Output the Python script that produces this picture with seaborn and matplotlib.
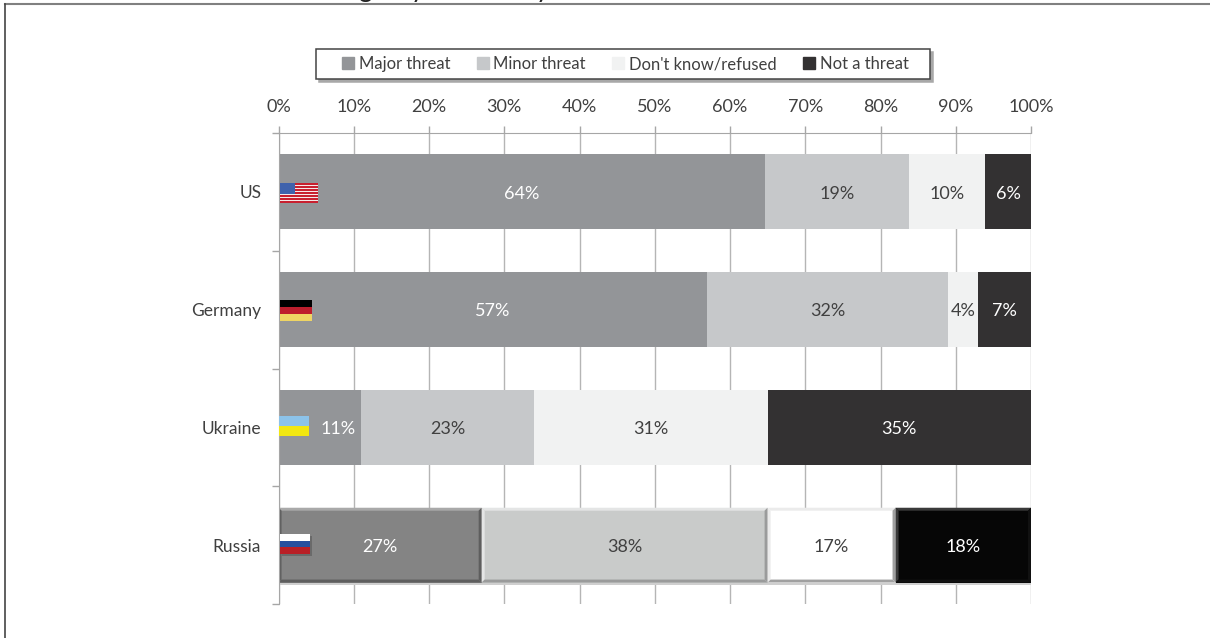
import matplotlib

matplotlib.use("Agg")

import matplotlib.pyplot as plt
from matplotlib.lines import Line2D
from matplotlib.patches import Rectangle
import numpy as np
import pandas as pd
import seaborn as sns

countries = ['US', 'Germany', 'Ukraine', 'Russia']
answers = ['Major threat', 'Minor threat', "Don't know/refused", 'Not a threat']
major = [64, 57, 11, 27]
minor = [19, 32, 23, 38]
unknown = [10, 4, 31, 17]
not_threat = [6, 7, 35, 18]
xticks = [0, 10, 20, 30, 40, 50, 60, 70, 80, 90, 100]

colors = ['#939598', '#c6c8ca', '#f1f2f2', '#333132']
russia_colors = ['#848484', '#c9cbca', '#ffffff', '#060606']
label_colors = ['white', '#404040', '#404040', 'white']

# stripes run top to bottom, then flag width in pixels
flags = {
    'Germany': (['#000000', '#be1e2d', '#efd564'], 32),
    'Ukraine': (['#8cc3ea', '#f2e711'], 30),
    'Russia': (['#ffffff', '#27509f', '#b91f26'], 30),
}

plt.rcParams['font.family'] = ['Lato', 'DejaVu Sans']

counts = pd.DataFrame(dict(zip(answers, [major, minor, unknown, not_threat])), index=countries)
shares = counts.div(counts.sum(axis=1), axis=0) * 100
running = shares.cumsum(axis=1)

fig = plt.figure(figsize=(12.1, 6.38), dpi=100)
ax = fig.add_axes([278.5 / 1210, 1 - 604 / 638, 752.5 / 1210, 471 / 638])

# stacked look: longest total first, each shorter one painted over it
for i in reversed(range(len(answers))):
    palette = colors[i:i + 1] * 3 + russia_colors[i:i + 1]
    sns.barplot(x=running[answers[i]].values, y=countries, hue=countries, palette=palette,
                legend=False, width=0.635, saturation=1, orient='h', ax=ax, zorder=3)

ax.set_xlim(0, 100)
ax.set_ylim(3.5, -0.5)
ax.xaxis.tick_top()
ax.set_xticks(xticks)
ax.set_xticklabels([f'{t}%' for t in xticks], fontsize=13, color='#404040')
ax.tick_params(axis='x', length=5, width=1, color='#a6a6a6', pad=8)
ax.tick_params(axis='y', length=0, labelsize=12.5, labelcolor='#404040', pad=12.5)
ax.set_yticks(np.arange(-0.5, 4), minor=True)
ax.tick_params(axis='y', which='minor', length=5, width=1, color='#a6a6a6')
ax.grid(axis='x', color='#b5b5b5', lw=1, zorder=0)
ax.set_axisbelow(True)
ax.set_xlabel('')
ax.set_ylabel('')
for side in ['right', 'bottom']:
    ax.spines[side].set_visible(False)
for side in ['top', 'left']:
    ax.spines[side].set_color('#a6a6a6')
ax.spines['left'].set_zorder(6)

# value labels
for r, country in enumerate(countries):
    for c, answer in enumerate(answers):
        center = running.loc[country, answer] - shares.loc[country, answer] / 2
        if country == 'Ukraine' and c == 0:
            center += 2.4
        ax.text(center, r + 0.015, f'{counts.loc[country, answer]}%', ha='center', va='center',
                fontsize=13, color=label_colors[c], zorder=5)

# bevel on the Russia row
half = 0.635 / 2
russia = countries.index('Russia')
lefts = np.r_[0, running.loc['Russia'].values[:-1]]
rights = running.loc['Russia'].values
bx, by = 0.4, 0.025
top, bot = russia - half, russia + half
ax.add_patch(Rectangle((0, bot), 100, 0.025, color='#cfcfcf', lw=0, zorder=2.5))
for c in range(len(answers)):
    l, r = lefts[c], rights[c]
    light = '#3a3a3a' if c == 3 else ('#ebebeb' if c == 2 else '#a9a9a9' if c == 0 else '#e4e5e5')
    dark = '#111111' if c == 3 else ('#a0a0a0' if c == 2 else '#5e5e5e' if c == 0 else '#9a9b9b')
    ax.add_patch(plt.Polygon([(l, top), (r, top), (r - bx, top + by), (l + bx, top + by)], color=light, lw=0, zorder=4))
    ax.add_patch(plt.Polygon([(l, top), (l + bx, top + by), (l + bx, bot - by), (l, bot)], color=dark if c == 0 else light, lw=0, zorder=4))
    ax.add_patch(plt.Polygon([(r, top), (r, bot), (r - bx, bot - by), (r - bx, top + by)], color=dark, lw=0, zorder=4))
    ax.add_patch(plt.Polygon([(l, bot), (r, bot), (r - bx, bot - by), (l + bx, bot - by)], color=dark, lw=0, zorder=4))

# flags, placed in pixels from the bar's left edge
def flag_axes(left, row_center, width, height):
    return fig.add_axes([left / 1210, 1 - (row_center + height / 2) / 638, width / 1210, height / 638], zorder=8)

row_px = [193, 310.5, 426, 544]
# soft shadow under the Russia flag
fig.add_artist(Rectangle((282 / 1210, 1 - 556 / 638), 30 / 1210, 20 / 638, color='#6a6a6a', lw=0,
                         transform=fig.transFigure, zorder=7))
for country, (stripes, w) in flags.items():
    left = 279 if country == 'Ukraine' else 280
    fax = flag_axes(left, row_px[countries.index(country)], w, 20.5)
    for k, stripe in enumerate(stripes):
        fax.axhspan(k, k + 1, color=stripe, lw=0)
    fax.set_ylim(len(stripes), 0)
    fax.set_xlim(0, 1)
    fax.axis('off')

fax = flag_axes(280, row_px[0], 38, 20)
for k in range(13):
    fax.axhspan(k, k + 1, color='#c8202f' if k % 2 == 0 else '#f7e9e9', lw=0)
fax.add_patch(Rectangle((0, 0), 0.4, 7, color='#3f62ac', lw=0))
fax.set_ylim(13, 0)
fax.set_xlim(0, 1)
fax.axis('off')

# legend box drawn by hand so its padding can differ from the legend's own
box_left, box_right, box_top, box_bottom = 316, 930, 49, 79
for off, face, edge in [(3, '#a8a8a8', '#a8a8a8'), (0, 'white', '#444444')]:
    fig.add_artist(Rectangle(((box_left + off) / 1210, 1 - (box_bottom + off) / 638),
                             (box_right - box_left) / 1210, (box_bottom - box_top) / 638,
                             facecolor=face, edgecolor=edge, lw=1.1, transform=fig.transFigure, zorder=9))
handles = [Line2D([], [], marker='s', ls='', ms=8.5, color=c) for c in colors]
leg = fig.legend(handles, answers, ncol=4, loc='center', bbox_to_anchor=(623 / 1210, 1 - 64 / 638),
                 fontsize=12, frameon=False, columnspacing=1.3, handletextpad=0.0,
                 handlelength=1.3, labelcolor='#404040')
leg.set_zorder(10)

# cropped slide frame, with only the descenders of the cut off title showing
frame = dict(transform=fig.transFigure)
fig.add_artist(Line2D([5 / 1210, 1], [1 - 4 / 638, 1 - 4 / 638], color='#808080', lw=1.5, **frame))
fig.add_artist(Line2D([5 / 1210, 5 / 1210], [0, 1 - 4 / 638], color='#444444', lw=1.2, **frame))
for px, letter in [(365, 'g'), (418, 'y'), (543, 'y')]:
    fig.text(px / 1210, 1 + 3 / 638, letter, fontsize=19, ha='center', va='baseline', color='#222222')

fig.savefig('out.png', dpi=100)
